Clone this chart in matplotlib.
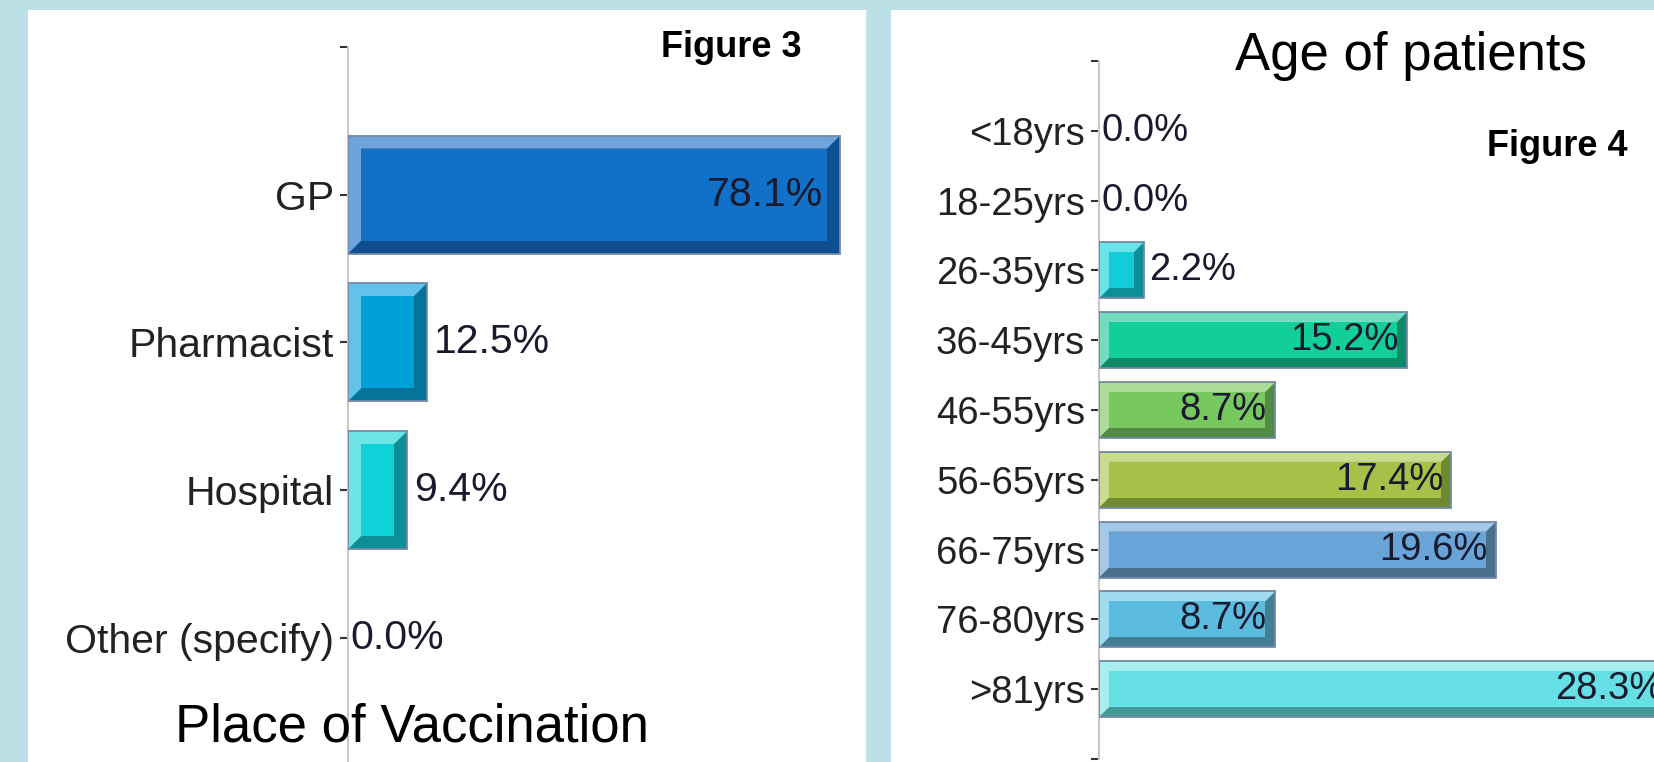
import matplotlib
matplotlib.use('Agg')
import matplotlib.pyplot as plt
from matplotlib.patches import Polygon, Rectangle

# data
place_labels = ['GP', 'Pharmacist', 'Hospital', 'Other (specify)']
place_values = [78.1, 12.5, 9.4, 0.0]
place_colors = [('#1170c8', '#6fa3dc', '#0d4f8f'),
                ('#00a0d8', '#62c2ea', '#06739a'),
                ('#10d0d8', '#6ce4e8', '#0c8f96'),
                ('#7a8cc8', '#aab8e0', '#56639a')]

age_labels = ['<18yrs', '18-25yrs', '26-35yrs', '36-45yrs', '46-55yrs',
              '56-65yrs', '66-75yrs', '76-80yrs', '>81yrs']
age_values = [0.0, 0.0, 2.2, 15.2, 8.7, 17.4, 19.6, 8.7, 28.3]
age_colors = [('#1170c8', '#6fa3dc', '#0d4f8f'),
              ('#00a0d8', '#62c2ea', '#06739a'),
              ('#12ccd8', '#6ce2ea', '#0c8f96'),
              ('#12cf9a', '#72dcc0', '#0e8a6a'),
              ('#78c860', '#aadc98', '#528c44'),
              ('#a8c048', '#c8dc90', '#708a32'),
              ('#68a4d8', '#a4c8e8', '#4a7090'),
              ('#5cbce0', '#a0dcf0', '#427e94'),
              ('#66e0e4', '#a6eef0', '#449898')]

W, H, DPI = 1654, 762, 100
BG = '#bde0e6'

plt.rcParams['font.family'] = ['Liberation Sans', 'DejaVu Sans']

fig = plt.figure(figsize=(W / DPI, H / DPI), dpi=DPI, facecolor=BG)

# white panels (behind the axes)
fig.patches.append(Rectangle((28 / W, 0), (866 - 28) / W, 1 - 10 / H,
                             transform=fig.transFigure, facecolor='white',
                             edgecolor='none', zorder=-5))
fig.patches.append(Rectangle((891 / W, 0), 1 - 891 / W, 1 - 10 / H,
                             transform=fig.transFigure, facecolor='white',
                             edgecolor='none', zorder=-5))


def bevel_bar(ax, y, value, colors, bevel_px, pos, xmax, nslots, height=0.8):
    face, light, dark = colors
    if value <= 0:
        return
    dx = bevel_px * xmax / (W * pos[2])
    dy = bevel_px * nslots / (H * pos[3])
    top = y - height / 2
    bottom = y + height / 2
    ax.add_patch(Rectangle((0, top), value, height, facecolor=dark,
                           edgecolor='none', zorder=2))
    ax.add_patch(Polygon([(0, top), (value, top), (value - dx, top + dy),
                          (dx, top + dy), (dx, bottom - dy), (0, bottom)],
                         closed=True, facecolor=light, edgecolor='none', zorder=3))
    ax.add_patch(Rectangle((dx, top + dy), value - 2 * dx, height - 2 * dy,
                           facecolor=face, edgecolor='none', zorder=4))
    ax.add_patch(Rectangle((0, top), value, height, fill=False,
                           edgecolor='#7689a6', lw=1.3, zorder=5))


def bar_chart(pos, labels, values, colors, xmax, fsize, bevel_px, inside_min,
              in_off, out_off):
    ax = fig.add_axes(pos)
    ax.set_zorder(2)
    ax.patch.set_visible(False)
    n = len(labels)
    nslots = n + 1
    ax.set_xlim(0, xmax)
    ax.set_ylim(nslots, 0)
    for i, (v, c) in enumerate(zip(values, colors)):
        y = i + 1
        bevel_bar(ax, y, v, c, bevel_px, pos, xmax, nslots)
        txt = '%.1f%%' % v
        if v >= inside_min:
            ax.annotate(txt, (v, y), xytext=(-in_off, 0), textcoords='offset points',
                        ha='right', va='center', fontsize=fsize, color='#1a1a2e',
                        zorder=6, annotation_clip=False)
        else:
            ax.annotate(txt, (v, y), xytext=(out_off if v > 0 else 1.5, 0),
                        textcoords='offset points', ha='left', va='center',
                        fontsize=fsize, color='#1a1a2e', zorder=6)
    ax.set_yticks(range(0, nslots + 1))
    ax.set_yticklabels([''] + labels + [''], fontsize=fsize, color='#222222')
    ax.tick_params(axis='y', length=6, width=1.5, color='#333333', pad=4)
    ax.set_xticks([])
    for s in ['top', 'right', 'bottom']:
        ax.spines[s].set_visible(False)
    ax.spines['left'].set_color('#c8c8c8')
    ax.spines['left'].set_linewidth(1.5)
    return ax


# left chart: Place of Vaccination
lx0, lxmax, lpx = 348, 82, 6.30
ltop, lstep = 47, 147.7
lpos = [lx0 / W, 1 - (ltop + 5 * lstep) / H, lxmax * lpx / W, 5 * lstep / H]
bar_chart(lpos, place_labels, place_values, place_colors, lxmax, 29.5, 13, 20, 12, 5)

# right chart: Age of patients
rx0, rxmax, rpx = 1099, 30, 20.25
rtop, rstep = 61, 69.8
rpos = [rx0 / W, 1 - (rtop + 10 * rstep) / H, rxmax * rpx / W, 10 * rstep / H]
bar_chart(rpos, age_labels, age_values, age_colors, rxmax, 27.5, 10, 5, 6, 4)

fig.text(731 / W, 1 - 57 / H, 'Figure 3', fontsize=26, fontweight='bold',
         ha='center', va='baseline')
fig.text(412 / W, 1 - 741 / H, 'Place of Vaccination', fontsize=38,
         ha='center', va='baseline', zorder=10)
fig.text(1411 / W, 1 - 70 / H, 'Age of patients', fontsize=38,
         ha='center', va='baseline')
fig.text(1557 / W, 1 - 156 / H, 'Figure 4', fontsize=26, fontweight='bold',
         ha='center', va='baseline')

fig.savefig('out.png', dpi=DPI, facecolor=BG)
